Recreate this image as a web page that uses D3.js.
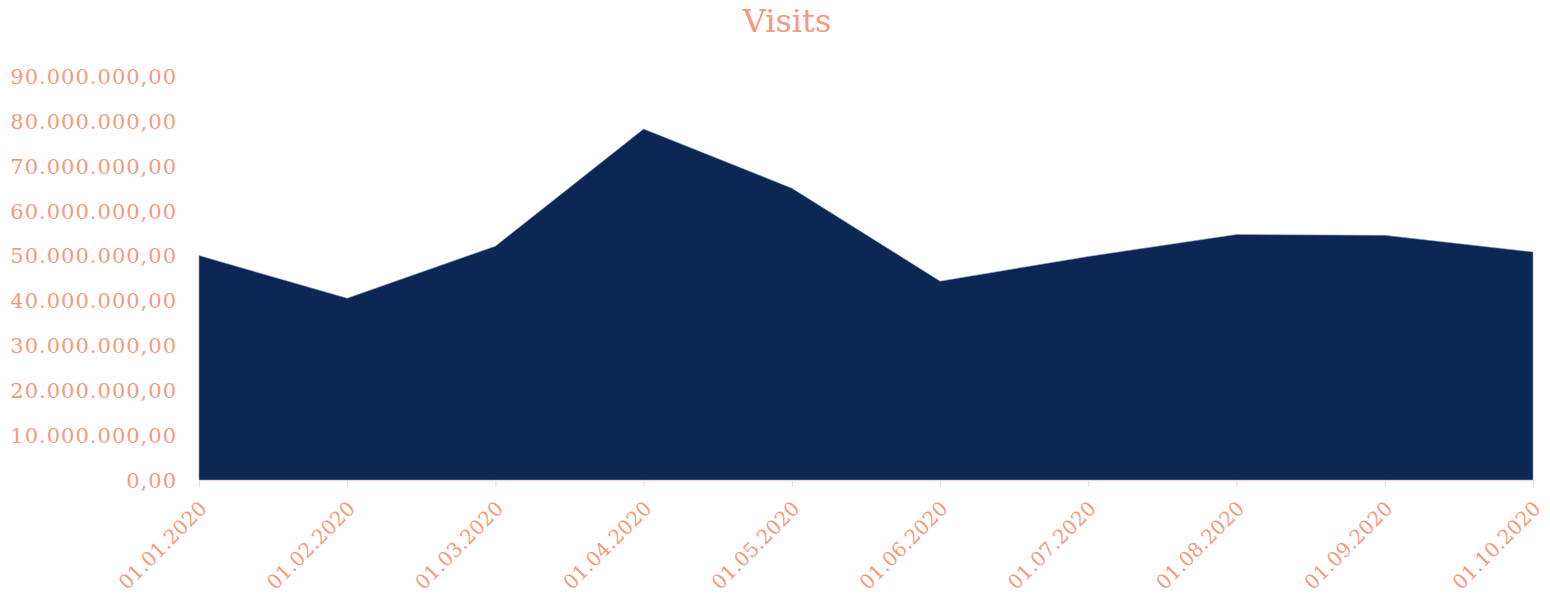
<!DOCTYPE html>
<html>
<head>
<meta charset="utf-8">
<script src="https://cdn.jsdelivr.net/npm/d3@7"></script>
<style>
  body { margin: 0; background: #fff; }
  .axis text { font-family: "DejaVu Serif", serif; fill: #f59a7c; }
</style>
</head>
<body>
<div id="chart"></div>
<script>
const dates = ["01.01.2020", "01.02.2020", "01.03.2020", "01.04.2020", "01.05.2020",
  "01.06.2020", "01.07.2020", "01.08.2020", "01.09.2020", "01.10.2020"];
const visits = [50000000, 40500000, 52100000, 78200000, 65000000,
  44300000, 49800000, 54700000, 54500000, 50800000];
const yTicks = [0, 10000000, 20000000, 30000000, 40000000, 50000000,
  60000000, 70000000, 80000000, 90000000];

const W = 1550, H = 599;
const margin = {top: 76, right: 17, bottom: 119, left: 199};
const width = W - margin.left - margin.right;
const height = H - margin.top - margin.bottom;

const svg = d3.select("#chart").append("svg")
  .attr("width", W)
  .attr("height", H);

svg.append("text")
  .attr("x", 787)
  .attr("y", 32)
  .attr("text-anchor", "middle")
  .style("font-family", "DejaVu Serif, serif")
  .style("font-size", "32px")
  .style("fill", "#f59a7c")
  .text("Visits");

const g = svg.append("g")
  .attr("transform", "translate(" + margin.left + "," + margin.top + ")");

const x = d3.scalePoint().domain(dates).range([0, width]);
const y = d3.scaleLinear().domain([0, 90000000]).range([height, 0]);

// german style number: 90.000.000,00
const fmt = function (v) {
  const s = d3.format(",.2f")(v);
  return s.replace(/,/g, "#").replace(".", ",").replace(/#/g, ".");
};

const area = d3.area()
  .x(function (d, i) { return x(dates[i]); })
  .y0(height)
  .y1(function (d) { return y(d); });

g.append("path")
  .attr("d", area(visits))
  .attr("fill", "#0c2753")
  .attr("stroke", "#8a9cb8")
  .attr("stroke-width", 0.6);

const yAxis = g.append("g")
  .attr("class", "axis")
  .call(d3.axisLeft(y).tickValues(yTicks).tickFormat(fmt).tickSize(0).tickPadding(22));
yAxis.select(".domain").remove();
yAxis.selectAll("text")
  .style("font-size", "21px")
  .style("letter-spacing", "1px")
  .attr("dy", "0.35em");

const xAxis = g.append("g")
  .attr("class", "axis")
  .attr("transform", "translate(0," + height + ")")
  .call(d3.axisBottom(x).tickSize(7).tickSizeOuter(0));
xAxis.select(".domain").attr("stroke", "#f6d3c6");
xAxis.selectAll(".tick line").attr("stroke", "#f6d3c6");
xAxis.selectAll("text")
  .style("font-size", "20px")
  .attr("text-anchor", "end")
  .attr("dx", "-0.75em")
  .attr("dy", "0.85em")
  .attr("transform", "rotate(-45)");
</script>
</body>
</html>
